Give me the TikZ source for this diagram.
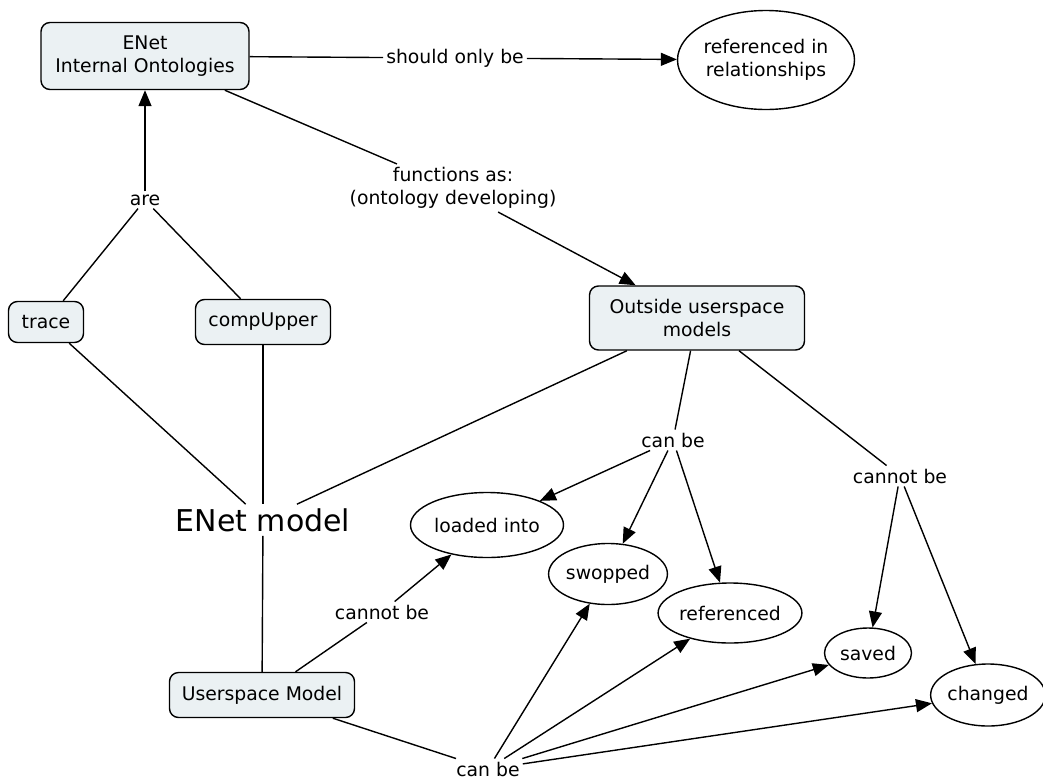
\documentclass[tikz,border=0pt]{standalone}
\usepackage{fontspec}
\setmainfont{DejaVu Sans}
\usetikzlibrary{arrows.meta,shapes.geometric}
\definecolor{boxfill}{HTML}{EBF1F3}
\begin{document}
\begin{tikzpicture}[x=1pt,y=-1pt,
  every node/.style={font=\fontsize{18.8}{23.5}\selectfont},
  concept/.style={draw, line width=1.4pt, rounded corners=9pt, fill=boxfill, align=center, inner xsep=8pt, inner ysep=5pt},
  oval/.style={draw, ellipse, line width=1.4pt, align=center, inner sep=0pt},
  lbl/.style={align=center, inner sep=3pt},
  link/.style={line width=1.4pt},
  arr/.style={line width=1.4pt, -{Triangle[length=16pt,width=13pt]}}
]
\useasboundingbox (0,0) rectangle (1043,782);
% concepts
\node[concept, minimum width=208pt, minimum height=67pt] (eio) at (145,56) {ENet\\Internal Ontologies};
\node[oval, minimum width=177pt, minimum height=99pt] (rel) at (766,60) {referenced in\\relationships};
\node[concept, minimum width=75pt, minimum height=41pt] (trace) at (46,322) {trace};
\node[concept, minimum width=135pt, minimum height=45pt] (comp) at (263,322) {compUpper};
\node[concept, minimum width=215pt, minimum height=64pt] (out) at (697,318) {Outside userspace\\models};
\node[font=\fontsize{30}{34}\selectfont, inner sep=4pt] (model) at (263,520) {ENet model};
\node[concept, minimum width=185pt, minimum height=45pt] (user) at (262,695) {Userspace Model};
\node[oval, minimum width=153pt, minimum height=65pt] (load) at (487,525) {loaded into};
\node[oval, minimum width=117pt, minimum height=61pt] (swop) at (608,574) {swopped};
\node[oval, minimum width=133pt, minimum height=60pt] (refd) at (730,613) {referenced};
\node[oval, minimum width=87pt, minimum height=50pt] (saved) at (868,653) {saved};
\node[oval, minimum width=108pt, minimum height=62pt] (chg) at (988,695) {changed};
% linking phrases
\node[lbl] (should) at (455,58) {should only be};
\node[lbl] (func) at (453,188) {functions as:\\(ontology developing)};
\node[lbl] (are) at (145,200) {are};
\node[lbl] (canA) at (673,440) {can be};
\node[lbl] (cantA) at (900,476) {cannot be};
\node[lbl] (cantB) at (382,612) {cannot be};
\node[lbl] (canB) at (488,769) {can be};
% connectors
\draw[link] (eio) -- (should);
\draw[arr] (should) -- (rel);
\draw[link] (eio) -- (func);
\draw[arr] (func) -- (out);
\draw[arr] (are) -- (eio);
\draw[link] (trace) -- (are);
\draw[link] (comp) -- (are);
\draw[link] (trace) -- (model);
\draw[link] (comp) -- (model);
\draw[link] (out) -- (model);
\draw[link] (model) -- (user);
\draw[link] (out) -- (canA);
\draw[arr] (canA) -- (load);
\draw[arr] (canA) -- (swop);
\draw[arr] (canA) -- (refd);
\draw[link] (out) -- (cantA);
\draw[arr] (cantA) -- (saved);
\draw[arr] (cantA) -- (chg);
\draw[link] (user) -- (cantB);
\draw[arr] (cantB) -- (load);
\draw[link] (user) -- (canB);
\draw[arr] (canB) -- (swop);
\draw[arr] (canB) -- (refd);
\draw[arr] (canB) -- (saved);
\draw[arr] (canB) -- (chg);
\end{tikzpicture}
\end{document}
